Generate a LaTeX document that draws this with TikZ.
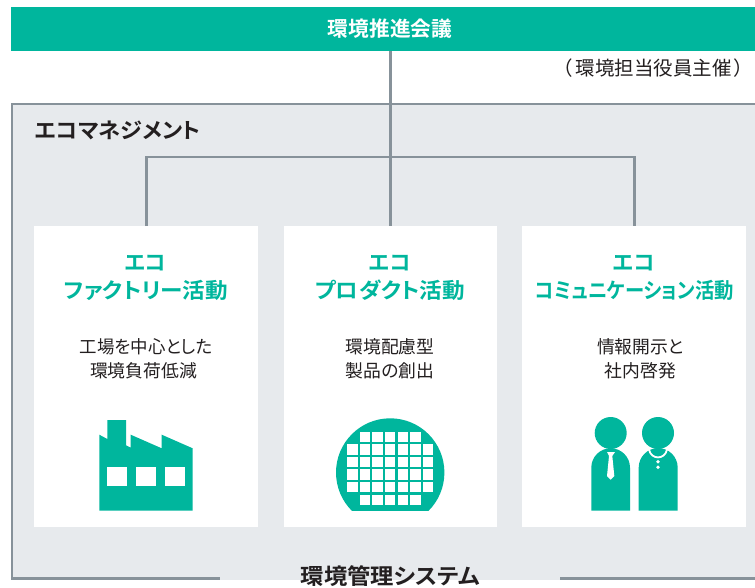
\documentclass[tikz,border=0pt]{standalone}
\usepackage{fontspec}
\setmainfont{Noto Sans CJK JP}[BoldFont={Noto Sans CJK JP Bold},RawFeature=+palt]
\definecolor{eco}{HTML}{00B69D}
\definecolor{framegrey}{HTML}{87929A}
\definecolor{panel}{HTML}{E7EAED}
\definecolor{ink}{HTML}{231F20}
\newcommand{\wide}[2]{\scalebox{#1}[1]{#2}}
\tikzset{
  link/.style={draw=framegrey,line width=2.7pt},
  card/.style={fill=white,inner sep=0pt,anchor=north west},
  cardtitle/.style={text=eco,font=\fontsize{21.5}{26}\selectfont\bfseries,inner sep=0pt},
  cardbody/.style={text=ink,font=\fontsize{17.8}{25}\selectfont,inner sep=0pt},
  icon/.style={fill=eco,draw=none},
  hole/.style={fill=white,draw=none},
}
\begin{document}
\begin{tikzpicture}[x=1pt,y=-1pt]
\useasboundingbox (0,0) rectangle (755,587);
\fill[white] (0,0) rectangle (755,587);
% panel
\fill[panel] (12,104) rectangle (755,580);
\draw[link] (755,104) -- (12,104) -- (12,578.6) -- (220,578.6);
\draw[link] (560,578.6) -- (755,578.6);
% top bar
\node[fill=eco,inner sep=0pt,anchor=north west,minimum width=744pt,minimum height=44pt] (council) at (11,7) {};
\node[text=white,font=\fontsize{20.7}{24}\selectfont\bfseries,inner sep=0pt] (councillabel) at (390,29) {環境推進会議};
\node[text=ink,font=\fontsize{19.5}{24}\selectfont,inner sep=0pt] (host) at (653.7,68) {（\hspace{3pt}環境担当役員主催\hspace{3pt}）};
\node[text=ink,font=\fontsize{21.5}{24}\selectfont\bfseries,inner sep=0pt,anchor=west] (ecolabel) at (35,130) {\wide{1.03}{エコマネジメント}};
% cards
\node[card,minimum width=224pt,minimum height=301pt] (card1) at (34,226) {};
\node[card,minimum width=213pt,minimum height=301pt] (card2) at (284,226) {};
\node[card,minimum width=224pt,minimum height=301pt] (card3) at (522,226) {};
% connectors
\coordinate (bus) at (390.5,157);
\draw[link] (council.south -| bus) -- (card2.north -| bus);
\draw[link] (card1.north) |- (bus) -| (card3.north);
% card text
\node[cardtitle] (t1a) at (145.5,263) {エコ};
\node[cardtitle] (t1b) at (146,290) {\wide{1.05}{ファクトリー活動}};
\node[cardtitle] (t2a) at (390,263) {エコ};
\node[cardtitle] (t2b) at (390,290) {\wide{1.05}{プロダクト活動}};
\node[cardtitle] (t3a) at (634,263) {エコ};
\node[cardtitle] (t3b) at (634.5,290) {\wide{0.9}{コミュニケーション活動}};
\node[cardbody] (b1a) at (146,346.5) {\wide{0.98}{工場を中心とした}};
\node[cardbody] (b1b) at (143.5,371) {環境負荷低減};
\node[cardbody] (b2a) at (390,346.5) {環境配慮型};
\node[cardbody] (b2b) at (390,371) {製品の創出};
\node[cardbody] (b3a) at (640.5,346.5) {情報開示と};
\node[cardbody] (b3b) at (640.5,371) {社内啓発};
% factory
\fill[icon] (99.3,510.7) -- (192.7,510.7) -- (192.7,448.3) -- (161.7,434.7) -- (161.7,448.3) -- (130.7,434.7) -- (130.7,447.7) -- (126,445.3) -- (126,420) -- (107.3,420) -- (107.3,439) -- (99.3,434.7) -- cycle;
\fill[hole] (107,466.7) rectangle (126.7,486.3);
\fill[hole] (136,466.7) rectangle (156,486.3);
\fill[hole] (165,466.7) rectangle (185,486.3);
% wafer
\begin{scope}
\clip (330,410) rectangle (450,510.7);
\fill[icon] (390.2,472.5) circle[radius=54.2];
\end{scope}
\foreach \c in {0,...,6}{\foreach \r in {0,...,5}{
  \pgfmathparse{(\r==0 || \r==5) && (\c==0 || \c==6) ? 0 : 1}
  \ifnum\pgfmathresult=1
    \fill[hole] ({347.3+12.57*\c},{431.7+12.57*\r}) rectangle +(10.4,10.4);
  \fi
}}
% man
\fill[icon] (610.7,433) circle[radius=16];
\fill[icon] (591.3,510.7) -- (591.3,467.6) arc[start angle=180,end angle=360,radius=19.35] -- (630,510.7) -- cycle;
\fill[hole] (607,452) -- (615,452) -- (612.3,456) -- (614.3,476) -- (610.7,479.7) -- (607,476) -- (609,456) -- cycle;
% woman
\fill[icon] (658,433) circle[radius=16];
\fill[icon] (638.7,510.7) -- (638.7,467.6) arc[start angle=180,end angle=360,radius=19.5] -- (677.7,510.7) -- cycle;
\draw[white,line width=1.8pt] (649,449.5) .. controls (651,460) and (665,460) .. (667,449.5);
\fill[hole] (658,461.7) circle[radius=1.9];
\fill[hole] (658,467.3) circle[radius=1.9];
% bottom label
\node[text=ink,font=\fontsize{22}{24}\selectfont\bfseries,inner sep=0pt] (system) at (390.5,575.8) {\wide{1.06}{環境管理システム}};
\end{tikzpicture}
\end{document}
